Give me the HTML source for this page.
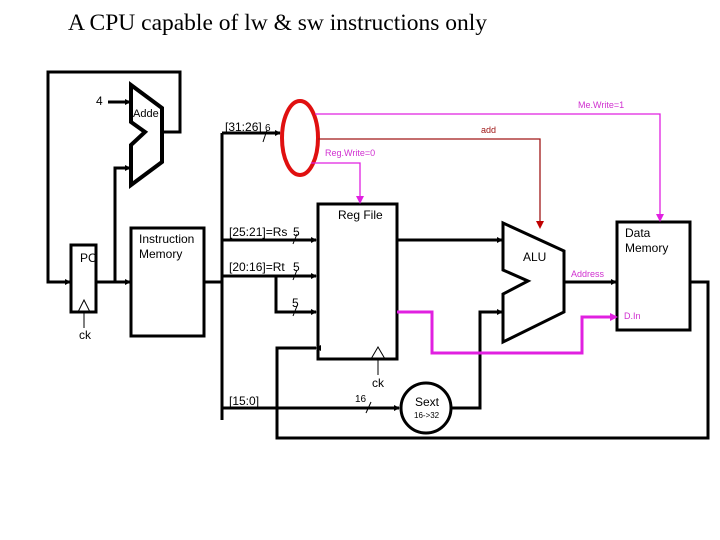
<!DOCTYPE html>
<html><head><style>body{margin:0;background:#fff}svg{display:block}</style></head><body>
<svg width="720" height="540" viewBox="0 0 720 540" xmlns="http://www.w3.org/2000/svg" font-family="Liberation Sans, sans-serif">
<defs>
<marker id="a" markerWidth="6" markerHeight="6" refX="5" refY="3" orient="auto" markerUnits="userSpaceOnUse"><path d="M0,0L6,3L0,6z" fill="#000"/></marker>
<marker id="m" markerWidth="8" markerHeight="8" refX="6" refY="4" orient="auto" markerUnits="userSpaceOnUse"><path d="M0,0L8,4L0,8z" fill="#e020e0"/></marker>
<marker id="r" markerWidth="8" markerHeight="8" refX="6" refY="4" orient="auto" markerUnits="userSpaceOnUse"><path d="M0,0L8,4L0,8z" fill="#c00000"/></marker>
</defs>
<text x="68" y="30" font-family="Liberation Serif, serif" font-size="23.5">A CPU capable of lw &amp; sw instructions only</text>
<g fill="none" stroke="#000" stroke-width="3">
<polyline points="162,132 180,132 180,72 48,72 48,282 70,282" marker-end="url(#a)"/>
<line x1="108" y1="102" x2="130" y2="102" marker-end="url(#a)"/>
<polyline points="96,282 130,282" marker-end="url(#a)"/>
<polyline points="115,282 115,168 130,168" marker-end="url(#a)"/>
<polygon points="131,85 162,108 162,162 131,185 131,145 145,132 131,122" stroke-width="4"/>
<rect x="71" y="245" width="25" height="67"/>
<rect x="131" y="228" width="73" height="108"/>
<polyline points="204,282 222,282"/>
<line x1="222" y1="133" x2="222" y2="420"/>
<line x1="222" y1="133" x2="280" y2="133" marker-end="url(#a)"/>
<line x1="222" y1="240" x2="316" y2="240" marker-end="url(#a)"/>
<line x1="222" y1="276" x2="316" y2="276" marker-end="url(#a)"/>
<polyline points="276,276 276,312 316,312" marker-end="url(#a)"/>
<polyline points="316,348 277,348 277,438 708,438 708,282 690,282" marker-start="url(#a)"/>
<line x1="222" y1="408" x2="399" y2="408" marker-end="url(#a)"/>
<rect x="318" y="204" width="79" height="155"/>
<circle cx="426" cy="408" r="25"/>
<polyline points="451,408 480,408 480,312 502,312" marker-end="url(#a)"/>
<line x1="397" y1="240" x2="502" y2="240" marker-end="url(#a)"/>
<polygon points="503,223 564,251 564,312 503,342 503,294 528,281 503,270"/>
<line x1="564" y1="282" x2="616" y2="282" marker-end="url(#a)"/>
<rect x="617" y="222" width="73" height="108"/>
</g>
<g fill="none" stroke="#000" stroke-width="1">
<polyline points="78,312 84,300 90,312"/><line x1="84" y1="312" x2="84" y2="328"/>
<polyline points="371,359 378,347 385,359"/><line x1="378" y1="359" x2="378" y2="375"/>
<line x1="263" y1="142" x2="267" y2="130"/>
<line x1="293" y1="244" x2="297" y2="234"/>
<line x1="293" y1="280" x2="297" y2="270"/>
<line x1="293" y1="316" x2="297" y2="306"/>
<line x1="366" y1="413" x2="371" y2="402"/>
</g>
<ellipse cx="300" cy="138" rx="18" ry="37" fill="none" stroke="#e01010" stroke-width="4"/>
<g fill="none" stroke="#e020e0" stroke-width="1.3">
<polyline points="315,114 660,114 660,220" marker-end="url(#m)"/>
<polyline points="311,163 360,163 360,202" marker-end="url(#m)"/>
</g>
<polyline points="318,139 540,139 540,227" fill="none" stroke="#a01818" stroke-width="1.3" marker-end="url(#r)"/>
<polyline points="397,312 432,312 432,353 582,353 582,317 616,317" fill="none" stroke="#e020e0" stroke-width="3" marker-end="url(#m)"/>
<g font-size="12" fill="#000">
<text x="96" y="105">4</text>
<text x="133" y="117" font-size="11">Adde</text>
<text x="80" y="262">PC</text>
<text x="79" y="339">ck</text>
<text x="139" y="243">Instruction</text>
<text x="139" y="258">Memory</text>
<text x="225" y="131">[31:26]</text><text x="265" y="131" font-size="10">6</text>
<text x="229" y="236">[25:21]=Rs</text><text x="293" y="236">5</text>
<text x="229" y="271">[20:16]=Rt</text><text x="293" y="271">5</text>
<text x="292" y="307">5</text>
<text x="229" y="405">[15:0]</text>
<text x="355" y="402" font-size="10">16</text>
<text x="338" y="219">Reg File</text>
<text x="372" y="387">ck</text>
<text x="415" y="406">Sext</text>
<text x="414" y="418" font-size="8">16-&gt;32</text>
<text x="523" y="261">ALU</text>
<text x="625" y="237">Data</text>
<text x="625" y="252">Memory</text>
</g>
<g font-size="9" fill="#d030d0">
<text x="578" y="108">Me.Write=1</text>
<text x="325" y="156">Reg.Write=0</text>
<text x="571" y="277">Address</text>
<text x="624" y="319">D.In</text>
</g>
<text x="481" y="133" font-size="9" fill="#a01818">add</text>
</svg>
</body></html>
